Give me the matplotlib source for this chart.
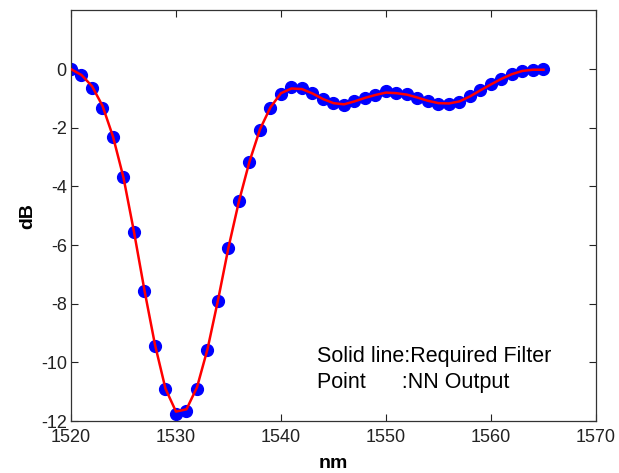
"""
Filter response: required filter vs NN output
"""

import matplotlib
matplotlib.use('Agg')
import matplotlib.pyplot as plt

# wavelength (nm)
wavelength = list(range(1520, 1566))

# NN output points (dB)
nn_output = [0.0, -0.2, -0.64, -1.31, -2.33, -3.68, -5.57, -7.58, -9.44, -10.91,
             -11.75, -11.67, -10.9, -9.59, -7.91, -6.09, -4.5, -3.16, -2.06, -1.34,
             -0.85, -0.62, -0.66, -0.83, -1.03, -1.17, -1.23, -1.09, -0.97, -0.89,
             -0.74, -0.8, -0.85, -0.97, -1.08, -1.19, -1.19, -1.12, -0.92, -0.72,
             -0.51, -0.32, -0.15, -0.05, -0.02, 0.0]

# required filter (dB)
required = [0.0, -0.2, -0.58, -1.25, -2.3, -3.7, -5.55, -7.55, -9.4, -10.9,
            -11.68, -11.6, -10.85, -9.55, -7.88, -6.08, -4.5, -3.15, -2.05, -1.3,
            -0.82, -0.66, -0.68, -0.83, -1.02, -1.16, -1.2, -1.1, -0.98, -0.88,
            -0.8, -0.82, -0.87, -0.97, -1.08, -1.16, -1.17, -1.1, -0.93, -0.72,
            -0.52, -0.33, -0.17, -0.06, -0.02, -0.02]

xticks = [1520, 1530, 1540, 1550, 1560, 1570]
yticks = [-12, -10, -8, -6, -4, -2, 0]

plt.rcParams['font.family'] = ['Liberation Sans', 'DejaVu Sans']
plt.rcParams['axes.unicode_minus'] = False

fig = plt.figure(figsize=(6.19, 4.73), dpi=100)
ax = fig.add_axes([71 / 619, 1 - 421 / 473, (596 - 71) / 619, (421 - 10.5) / 473])

ax.plot(wavelength, nn_output, 'o', color='#0000ff', markersize=8.5, zorder=2)
ax.plot(wavelength, required, '-', color='#ff0000', linewidth=1.8, zorder=3)

ax.set_xlim(1520, 1570)
ax.set_ylim(-12, 2)
ax.set_xticks(xticks)
ax.set_yticks(yticks)
ax.tick_params(direction='in', length=5, width=0.8, top=True, right=True,
               labelsize=13, colors='#222222', pad=3)
ax.tick_params(axis='x', pad=6)
for s in ax.spines.values():
    s.set_color('#333333')
    s.set_linewidth(0.9)

ax.set_xlabel('nm', fontsize=14, fontweight='bold', labelpad=6)
ax.set_ylabel('dB', fontsize=14, fontweight='bold', labelpad=3)

ax.text(1543.4, -9.99, 'Solid line:Required Filter', fontsize=15.5, va='baseline')
ax.text(1543.4, -10.89, 'Point      :NN Output', fontsize=15.5, va='baseline')

plt.savefig('out.png', dpi=100)
